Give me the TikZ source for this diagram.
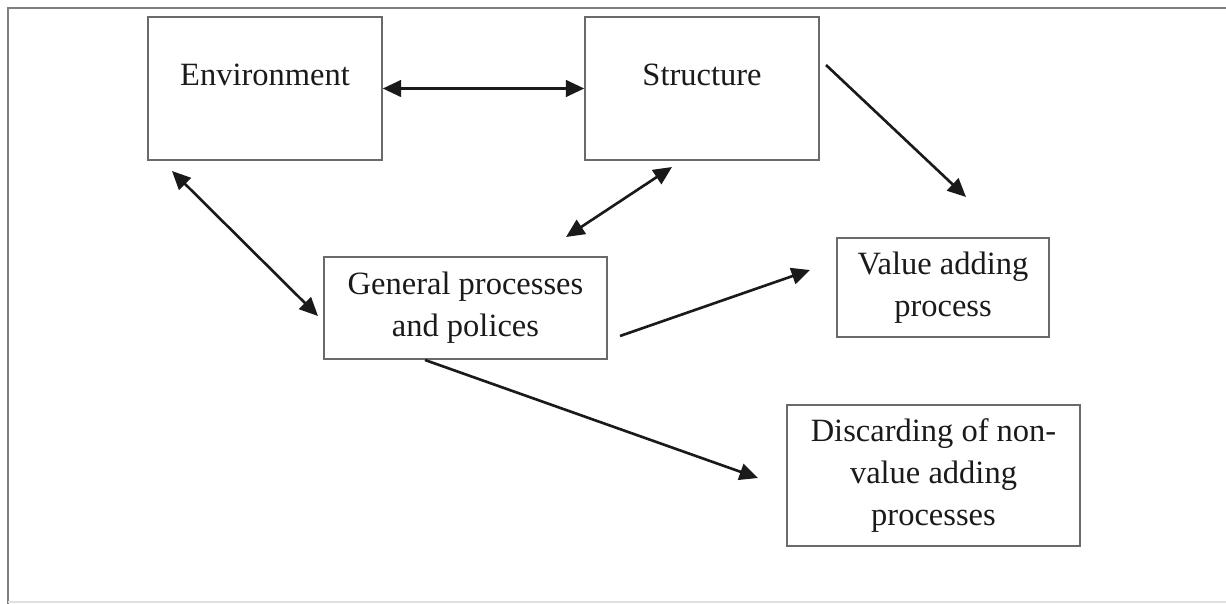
\documentclass[tikz,border=0pt]{standalone}
\usepackage{fontspec}
\setmainfont{Liberation Serif}
\usetikzlibrary{arrows.meta}
\definecolor{frame}{HTML}{7F7F7F}
\definecolor{boxline}{HTML}{6A6A6A}
\definecolor{ink}{HTML}{1A1A1A}

\begin{document}
\begin{tikzpicture}[x=0.02cm,y=-0.02cm,
  font=\fontsize{18.5}{24}\selectfont,
  box/.style={draw=boxline,line width=0.9pt,align=center,text=ink,inner sep=0pt},
  tophead/.style={text height=13pt,text depth=16pt},
  oneway/.style={draw=ink,line width=1.5pt,-{Triangle[length=10.5pt,width=9.5pt]}},
  twoway/.style={draw=ink,line width=1.5pt,{Triangle[length=10.5pt,width=9.5pt]}-{Triangle[length=10.5pt,width=9.5pt]}}]
  \useasboundingbox (0,0) rectangle (1226,604);

  % frame of the figure
  \draw[frame,line width=1.1pt] (8,604) -- (8,8) -- (1226,8);
  \draw[black!12,line width=0.6pt] (8,602) -- (1226,602);

  % boxes
  \node[box,tophead,minimum width=4.68cm,minimum height=2.86cm] (env) at (265,88.5) {Environment};
  \node[box,tophead,minimum width=4.68cm,minimum height=2.86cm] (struct) at (702,88.5) {Structure};
  \node[box,minimum width=5.66cm,minimum height=2.04cm] (gen) at (465.5,308) {General processes\\and polices};
  \node[box,minimum width=4.24cm,minimum height=1.98cm] (value) at (943,287.5) {Value adding\\process};
  \node[box,minimum width=5.86cm,minimum height=2.82cm] (discard) at (933.5,475.5) {Discarding of non-\\value adding\\processes};

  % free ends of the arrows
  \coordinate (envA) at (172,171);
  \coordinate (genA) at (318,316);
  \coordinate (structB) at (672,167);
  \coordinate (genB) at (566,237);
  \coordinate (structC) at (826,65);
  \coordinate (valueC) at (966,197);
  \coordinate (genD) at (620,336);
  \coordinate (valueD) at (810,270);
  \coordinate (genE) at (425,360);
  \coordinate (discardE) at (758,478);

  % arrows
  \draw[twoway] (env.east) -- (struct.west);
  \draw[twoway] (envA) -- (genA);
  \draw[twoway] (structB) -- (genB);
  \draw[oneway] (structC) -- (valueC);
  \draw[oneway] (genD) -- (valueD);
  \draw[oneway] (genE) -- (discardE);
\end{tikzpicture}
\end{document}
